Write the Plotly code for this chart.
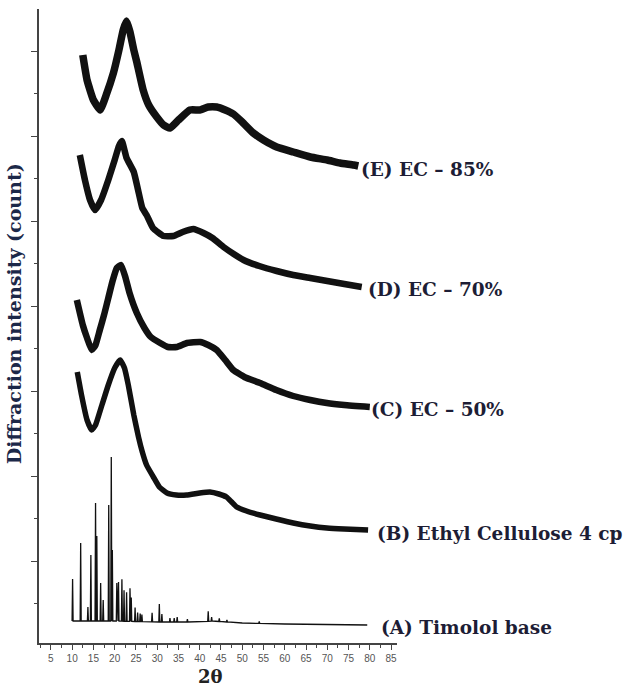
import numpy as np
import plotly.graph_objects as go

# ---------------- data (2θ, intensity in arbitrary counts, stacked) ----------------
# (A) Timolol base: baseline + sharp crystalline peaks
a_base_x = [10.0, 20.0, 30.0, 40.0, 43.0, 50.0, 60.0, 70.0, 79.4]
a_base_y = [22, 22, 21, 21, 22, 20, 19, 18.5, 18]
a_peak_x = [10.1, 12.0, 13.7, 14.4, 15.5, 15.8, 16.7, 17.3, 18.6, 19.2, 19.45, 20.5, 20.9,
            21.7, 22.2, 22.8, 23.6, 23.9, 24.8, 25.4, 26.0, 26.4, 28.8, 30.5, 31.1, 33.0,
            34.0, 34.7, 37.1, 42.0, 42.8, 44.6, 46.4, 54.0]
a_peak_h = [42, 78, 14, 66, 118, 85, 38, 21, 116, 164, 71, 38, 39,
            42, 31, 29, 33, 24, 14, 9, 8, 7, 9, 18, 8, 4,
            4, 5, 3, 10, 4, 3, 2, 2]

# (B) Ethyl Cellulose 4 cp
b_x = [11.2, 12.2, 13.5, 14.6, 15.5, 17.0, 18.5, 20.0, 21.3, 22.3, 23.2, 24.5, 25.6, 26.5,
       27.5, 29.1, 30.5, 32.3, 34.5, 36.9, 40.0, 42.4, 44.5, 46.3, 47.5, 48.7, 51.0, 54.2,
       58.0, 62.0, 66.0, 69.9, 74.0, 79.6]
b_y = [271, 248, 223, 213, 218, 238, 258, 275, 283, 275, 258, 228, 206, 191,
       178, 166, 156, 150, 148, 148, 150, 151, 149, 146, 141, 136, 132, 128,
       124, 120, 117, 115, 114, 113]

# (C) EC – 50%
c_x = [11.1, 12.5, 13.5, 14.6, 15.5, 16.5, 17.5, 18.5, 19.5, 20.5, 21.5, 22.5, 23.5, 25.2,
       27.0, 28.5, 30.7, 32.5, 34.6, 37.0, 40.1, 42.0, 44.0, 46.0, 47.9, 50.5, 54.2, 58.0,
       62.0, 66.0, 69.9, 74.0, 80.0]
c_y = [343, 318, 305, 293, 298, 313, 328, 345, 362, 375, 378, 366, 350, 330,
       315, 306, 300, 296, 296, 300, 301, 298, 293, 283, 273, 266, 260, 253,
       247, 243, 240, 238, 236]

# (D) EC – 70%
d_x = [11.8, 13.0, 14.2, 15.4, 16.8, 18.5, 20.0, 21.0, 21.7, 22.8, 24.5, 25.5, 26.5, 27.5,
       29.0, 31.5, 33.8, 36.0, 38.5, 40.9, 43.0, 45.6, 48.0, 50.3, 54.0, 58.1, 62.0, 66.0,
       70.0, 74.0, 78.1]
d_y = [488, 463, 443, 433, 443, 463, 483, 497, 502, 485, 471, 453, 435, 428,
       415, 407, 407, 411, 414, 410, 405, 396, 389, 383, 377, 372, 368, 365,
       362, 359, 356]

# (E) EC – 85%
e_x = [12.5, 13.5, 15.0, 16.6, 18.0, 19.7, 21.0, 22.0, 22.8, 23.6, 24.5, 25.2, 26.7, 28.0,
       29.9, 31.5, 33.0, 35.0, 37.7, 40.0, 42.0, 44.0, 46.0, 47.9, 50.0, 52.6, 55.0, 58.1,
       62.0, 66.0, 70.0, 73.0, 76.2, 77.3]
e_y = [588, 563, 543, 533, 548, 570, 593, 613, 622, 611, 593, 581, 553, 538,
       526, 518, 515, 523, 533, 533, 536, 536, 533, 529, 521, 510, 503, 496,
       491, 486, 483, 480, 478, 477]

labels = ["(E) EC – 85%", "(D) EC – 70%", "(C) EC – 50%",
          "(B) Ethyl Cellulose 4 cp", "(A) Timolol base"]
label_x = [77.4, 79.2, 79.8, 81.2, 82.1]
label_y = [474, 354, 234, 110, 16]

x_ticks = list(range(5, 90, 5))

# ---------------- build Timolol trace (baseline with narrow peaks) ----------------
pts = list(zip(a_base_x, a_base_y))
hw = 0.12
for px, ph in zip(a_peak_x, a_peak_h):
    b = float(np.interp(px, a_base_x, a_base_y))
    pts += [(px - hw, b), (px, b + ph), (px + hw, b)]
pts.sort(key=lambda p: p[0])
ax_, ay_ = zip(*pts)

fig = go.Figure()
line_col = "#111111"
for xs, ys, w in [(e_x, e_y, 7.5), (d_x, d_y, 6.5), (c_x, c_y, 6.5), (b_x, b_y, 5.5)]:
    fig.add_trace(go.Scatter(x=xs, y=ys, mode="lines",
                             line=dict(color=line_col, width=w, shape="spline", smoothing=0.4),
                             showlegend=False, hoverinfo="skip"))
fig.add_trace(go.Scatter(x=list(ax_), y=list(ay_), mode="lines",
                         line=dict(color=line_col, width=1.3),
                         showlegend=False, hoverinfo="skip"))

label_font = dict(family="DejaVu Serif", size=18.5, color="#1d1d35")
for t, lx, ly in zip(labels, label_x, label_y):
    fig.add_annotation(x=lx, y=ly, xref="x", yref="y", text="<b>%s</b>" % t,
                       showarrow=False, xanchor="left", yanchor="middle", font=label_font)

fig.add_annotation(x=0.478, y=-0.053, xref="paper", yref="paper", text="<b>2θ</b>",
                   showarrow=False, xanchor="center", yanchor="middle",
                   font=dict(family="DejaVu Serif", size=18, color="#222222"))
fig.add_annotation(x=-0.07, y=0.52, xref="paper", yref="paper",
                   text="<b>Diffraction intensity (count)</b>", textangle=-90,
                   showarrow=False, xanchor="center", yanchor="middle",
                   font=dict(family="DejaVu Serif", size=19, color="#1c2848"))

fig.update_layout(
    width=635, height=686,
    margin=dict(l=39, r=238, t=9, b=43),
    plot_bgcolor="white", paper_bgcolor="white",
    xaxis=dict(range=[2.2, 86.4], tickvals=x_ticks, ticktext=[str(v) for v in x_ticks],
               showline=True, linecolor="#444444", linewidth=1.5, mirror=False,
               ticks="outside", ticklen=5, tickcolor="#444444", tickwidth=1,
               minor=dict(ticks="outside", ticklen=3, dtick=2.5, tick0=2.5, tickcolor="#444444"),
               showgrid=False, zeroline=False,
               tickfont=dict(family="Liberation Sans", size=10, color="#555555")),
    yaxis=dict(range=[0, 634], tick0=82, dtick=85, showticklabels=False,
               showline=True, linecolor="#444444", linewidth=1.5, mirror=False,
               ticks="outside", ticklen=6, tickcolor="#444444", tickwidth=1.2,
               minor=dict(ticks="outside", ticklen=3, dtick=42.5, tick0=39.5, tickcolor="#444444"),
               showgrid=False, zeroline=False),
)

fig.write_html("out.html")
